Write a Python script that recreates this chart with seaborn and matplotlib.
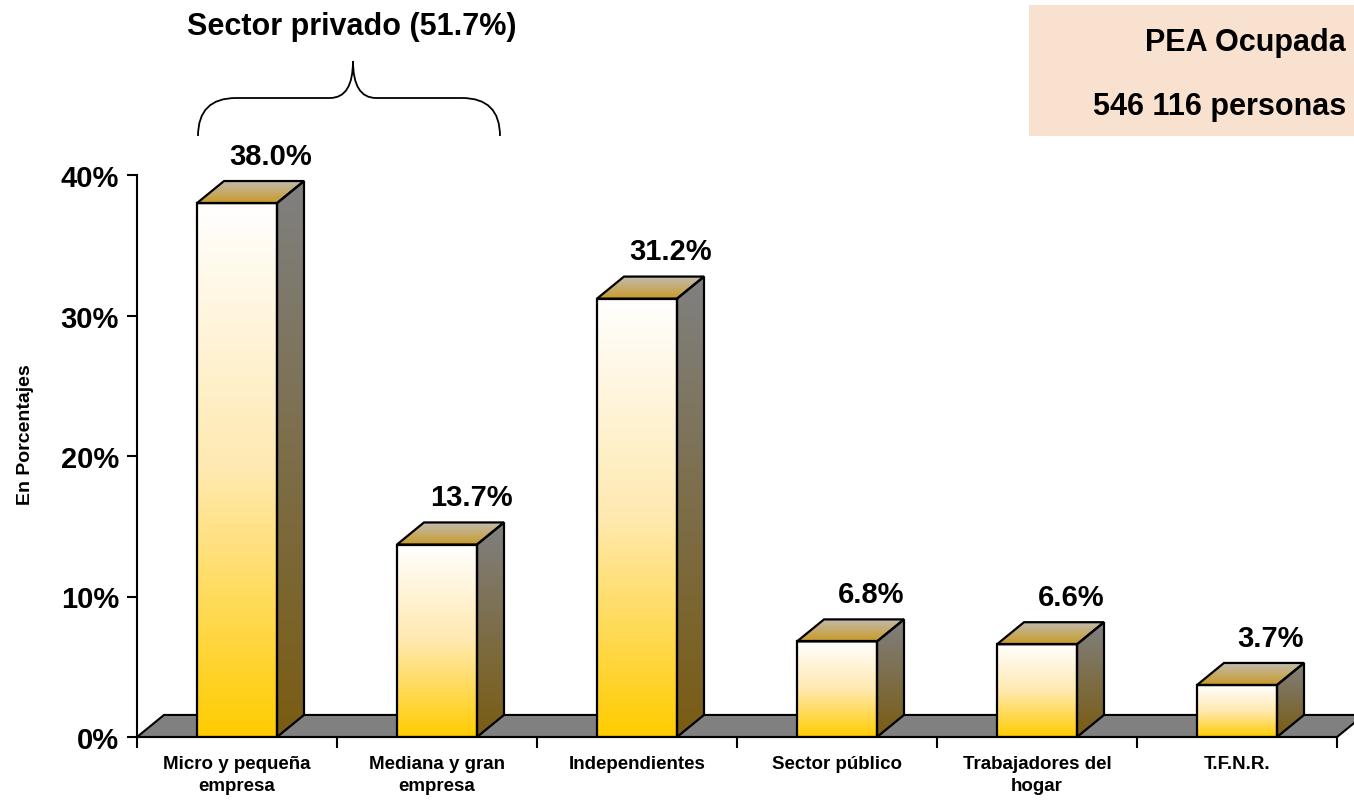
import numpy as np
import pandas as pd
import matplotlib
matplotlib.use("Agg")
import matplotlib.pyplot as plt
import seaborn as sns
from matplotlib.colors import LinearSegmentedColormap
from matplotlib.patches import Polygon, Rectangle, PathPatch
from matplotlib.path import Path
from matplotlib.ticker import FixedLocator, FuncFormatter

categories = ["Micro y pequeña\nempresa", "Mediana y gran\nempresa", "Independientes",
              "Sector público", "Trabajadores del\nhogar", "T.F.N.R."]
values = [38.0, 13.7, 31.2, 6.8, 6.6, 3.7]
value_labels = ["38.0%", "13.7%", "31.2%", "6.8%", "6.6%", "3.7%"]
y_ticks = [0, 10, 20, 30, 40]

W, H = 1354, 804
sns.set_theme(style="white")
plt.rcParams["font.family"] = ["Liberation Sans", "DejaVu Sans"]
plt.rcParams["font.weight"] = "bold"
for k in ["text.color", "axes.labelcolor", "xtick.color", "ytick.color"]:
    plt.rcParams[k] = "black"

fig = plt.figure(figsize=(W / 100, H / 100), dpi=100)
ax = fig.add_axes([137 / W, 66 / H, 1200 / W, 562 / H])

df = pd.DataFrame({"cat": categories, "val": values})
sns.barplot(data=df, x="cat", y="val", width=0.4, color="#FFCC00", ax=ax,
            edgecolor="black", linewidth=1.6, zorder=4)

# depth of the fake 3D boxes, in data units
dx, dy = 0.135, 1.57
front_cmap = LinearSegmentedColormap.from_list("front", ["#FFCC00", "#FFE9B0", "#FFFFFF"])
side_cmap = LinearSegmentedColormap.from_list("side", ["#7A5C12", "#808080"])
top_cmap = LinearSegmentedColormap.from_list("top", ["#C89A28", "#C2BCB4"])
grad = np.linspace(0, 1, 256).reshape(-1, 1)

# floor
floor = Polygon([(-0.5, 0), (-0.5 + dx, dy), (5.5 + dx, dy), (5.5, 0)], closed=True,
                facecolor="#808080", edgecolor="black", linewidth=1.5, zorder=1, clip_on=False)
ax.add_patch(floor)

for p in ax.patches:
    if p is floor:
        continue
    x0, w, h = p.get_x(), p.get_width(), p.get_height()
    p.set_facecolor("none")
    im = ax.imshow(grad, cmap=front_cmap, origin="lower", aspect="auto",
                   extent=[x0, x0 + w, 0, h], zorder=3)
    im.set_clip_path(p)

    side = Polygon([(x0 + w, 0), (x0 + w + dx, dy), (x0 + w + dx, h + dy), (x0 + w, h)],
                   closed=True, facecolor="none", edgecolor="black", linewidth=1.6, zorder=4,
                   clip_on=False)
    ax.add_patch(side)
    im2 = ax.imshow(grad, cmap=side_cmap, origin="lower", aspect="auto",
                    extent=[x0 + w, x0 + w + dx, 0, h + dy], zorder=3)
    im2.set_clip_path(side)

    top = Polygon([(x0, h), (x0 + dx, h + dy), (x0 + w + dx, h + dy), (x0 + w, h)],
                  closed=True, facecolor="none", edgecolor="black", linewidth=1.6, zorder=4,
                  clip_on=False)
    ax.add_patch(top)
    im3 = ax.imshow(grad, cmap=top_cmap, origin="lower", aspect="auto",
                    extent=[x0, x0 + w + dx, h, h + dy], zorder=3)
    im3.set_clip_path(top)

for i, (v, lab) in enumerate(zip(values, value_labels)):
    ax.text(i + 0.17, v + dy + 0.8, lab, ha="center", va="bottom",
            fontsize=21, fontweight="bold", color="black")

ax.set_xlim(-0.5, 5.5)
ax.set_ylim(0, 40)
ax.set_xlabel("")
ax.set_ylabel("En Porcentajes", fontsize=14, fontweight="bold")
ax.yaxis.set_label_coords(-0.086, 0.54)

ax.yaxis.set_major_locator(FixedLocator(y_ticks))
ax.yaxis.set_major_formatter(FuncFormatter(lambda v, _: f"{v:.0f}%"))
ax.tick_params(axis="y", which="major", direction="out", length=7, width=1.5,
               labelsize=21, left=True, pad=6)
ax.set_xticks(range(len(categories)))
ax.set_xticklabels(categories, fontsize=13.5, fontweight="bold", linespacing=1.4)
ax.set_xticks(np.arange(-0.5, 6, 1), minor=True)
ax.tick_params(axis="x", which="major", length=0, pad=13)
ax.tick_params(axis="x", which="minor", direction="out", length=8, width=1.5, bottom=True)
for lbl in ax.get_yticklabels():
    lbl.set_fontweight("bold")

sns.despine(ax=ax, top=True, right=True)
for s in ["left", "bottom"]:
    ax.spines[s].set_color("black")
    ax.spines[s].set_linewidth(1.5)
ax.spines["bottom"].set_zorder(5)


def fx(px):
    return px / W


def fy(py):
    return 1 - py / H


# brace over the private-sector bars
verts = [(198, 137), (198, 99), (236, 99), (330, 99), (353, 99), (353, 62),
         (353, 99), (376, 99), (462, 99), (500, 99), (500, 137)]
codes = [Path.MOVETO, Path.CURVE3, Path.CURVE3, Path.LINETO, Path.CURVE3, Path.CURVE3,
         Path.CURVE3, Path.CURVE3, Path.LINETO, Path.CURVE3, Path.CURVE3]
brace = Path([(fx(a), fy(b)) for a, b in verts], codes)
fig.patches.append(PathPatch(brace, transform=fig.transFigure, facecolor="none",
                             edgecolor="black", linewidth=1.3))
fig.text(fx(352), fy(27), "Sector privado (51.7%)", ha="center", va="center",
         fontsize=22, fontweight="bold")

# info box
fig.patches.append(Rectangle((fx(1029), fy(137)), fx(400), 131 / H, transform=fig.transFigure,
                             facecolor="#F8E1CF", edgecolor="none", zorder=0))
fig.text(fx(1346), fy(43), "PEA Ocupada", ha="right", va="center", fontsize=22,
         fontweight="bold")
fig.text(fx(1346), fy(107), "546 116 personas", ha="right", va="center", fontsize=22,
         fontweight="bold")

fig.savefig("out.png", dpi=100)
